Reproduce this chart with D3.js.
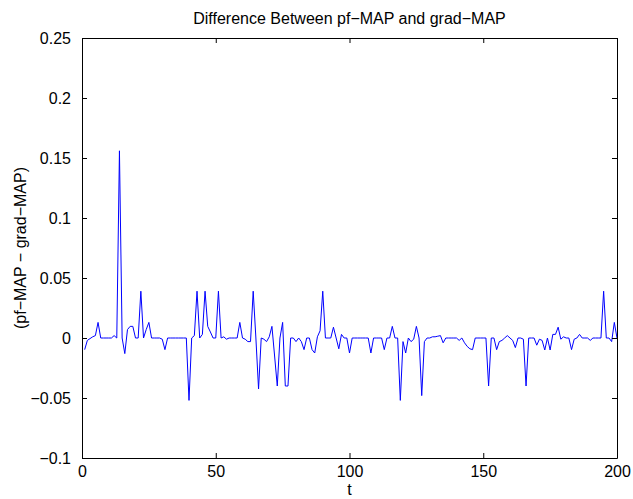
<!DOCTYPE html>
<html>
<head>
<meta charset="utf-8">
<script src="https://cdn.jsdelivr.net/npm/d3@7"></script>
<style>
  html, body { margin: 0; padding: 0; background: #fff; }
  svg text { font-family: "Liberation Sans", Arial, Helvetica, sans-serif; fill: #000; }
</style>
</head>
<body>
<svg id="chart" width="633" height="499"></svg>
<script>
// Difference between the two MAP estimates, one value per time step t = 1..200
const diffValues = [
  -0.0097, -0.002, -0.0005, 0.001, 0.002, 0.013, 0, 0, 0, 0,
  0, 0.002, 0, 0.156, 0, -0.013, 0.007, 0.0097, 0.0097, 0,
  0, 0.039, 0, 0.007, 0.013, 0, 0, 0, 0, -0.001,
  -0.0097, 0, 0, 0, 0, 0, 0, 0, 0, -0.052,
  0, 0.002, 0.039, 0, 0.003, 0.039, 0.0097, 0.005, 0, 0,
  0.039, 0, 0.001, -0.001, 0, 0, 0, 0, 0.013, 0,
  -0.001, -0.003, -0.003, 0.039, 0, -0.0425, 0, -0.001, -0.003, 0.001,
  0.0097, -0.015, -0.04, 0, 0.013, -0.04, -0.04, 0, 0, -0.003,
  0, -0.003, -0.0097, 0, 0, -0.0097, -0.0125, 0.001, 0.006, 0.039,
  0, 0, 0, 0.009, 0, -0.009, 0.003, 0, 0, -0.0125,
  0, 0, 0, 0, 0, 0, 0, -0.0125, 0, 0,
  0, 0, -0.0097, 0, 0, 0.0097, 0, 0, -0.052, -0.003,
  -0.0125, 0, -0.003, -0.001, 0.0097, 0, -0.048, -0.003, 0, 0,
  0.001, 0.001, 0.0015, 0.002, -0.004, 0, 0, 0, 0, 0,
  -0.002, 0, -0.004, -0.007, -0.009, -0.0097, 0, 0, 0, 0,
  0, -0.04, 0, 0, -0.0097, -0.003, -0.002, 0, 0.002, 0,
  -0.002, -0.008, 0, 0, -0.001, -0.04, 0, 0, 0, -0.006,
  -0.001, -0.002, -0.01, 0, -0.01, 0.003, 0.003, 0.009, -0.001, 0.001,
  0, 0, -0.0097, -0.001, 0, 0.003, 0, 0, 0, -0.002,
  0, 0, 0, 0, 0.039, 0, 0, -0.003, 0.013, 0
];
const timeSteps = diffValues.map((_, i) => i + 1);

const xTicks = [0, 50, 100, 150, 200];
const xTickLabels = ["0", "50", "100", "150", "200"];
const yTicks = [-0.1, -0.05, 0, 0.05, 0.1, 0.15, 0.2, 0.25];
const yTickLabels = ["\u22120.1", "\u22120.05", "0", "0.05", "0.1", "0.15", "0.2", "0.25"];

const titleText = "Difference Between pf\u2212MAP and grad\u2212MAP";
const xLabelText = "t";
const yLabelText = "(pf\u2212MAP \u2212 grad\u2212MAP)";

const plot = { left: 82, right: 617, top: 38, bottom: 458 };

const svg = d3.select("#chart");

const x = d3.scaleLinear().domain([0, 200]).range([plot.left, plot.right]);
const y = d3.scaleLinear().domain([-0.1, 0.25]).range([plot.bottom, plot.top]);

// Data line
const line = d3.line()
  .x((d, i) => x(timeSteps[i]))
  .y(d => y(d));

svg.append("path")
  .datum(diffValues)
  .attr("fill", "none")
  .attr("stroke", "#0000ff")
  .attr("stroke-width", 1)
  .attr("stroke-linejoin", "miter")
  .attr("d", line);

// Axes: ticks point inward on all four sides of the box
const fontSize = 16;
const xLabelOf = v => xTickLabels[xTicks.indexOf(v)];
const yLabelOf = v => yTickLabels[yTicks.findIndex(t => Math.abs(t - v) < 1e-9)];

const styleAxis = g => {
  g.select(".domain").attr("stroke", "#000").attr("stroke-width", 1);
  g.selectAll(".tick line").attr("stroke", "#000").attr("stroke-width", 1);
  g.selectAll(".tick text").attr("font-size", fontSize).attr("fill", "#000")
    .style("font-family", '"Liberation Sans", Arial, Helvetica, sans-serif');
};

svg.append("g")
  .attr("transform", `translate(0,${plot.bottom})`)
  .call(d3.axisBottom(x).tickValues(xTicks).tickFormat(xLabelOf)
    .tickSizeInner(-5).tickSizeOuter(0).tickPadding(8))
  .call(styleAxis);

svg.append("g")
  .attr("transform", `translate(0,${plot.top})`)
  .call(d3.axisTop(x).tickValues(xTicks).tickFormat(() => "")
    .tickSizeInner(-5).tickSizeOuter(0))
  .call(styleAxis);

svg.append("g")
  .attr("transform", `translate(${plot.left},0)`)
  .call(d3.axisLeft(y).tickValues(yTicks).tickFormat(yLabelOf)
    .tickSizeInner(-5).tickSizeOuter(0).tickPadding(11))
  .call(styleAxis);

svg.append("g")
  .attr("transform", `translate(${plot.right},0)`)
  .call(d3.axisRight(y).tickValues(yTicks).tickFormat(() => "")
    .tickSizeInner(-5).tickSizeOuter(0))
  .call(styleAxis);

// Title and axis labels
svg.append("text")
  .attr("x", (plot.left + plot.right) / 2)
  .attr("y", 24)
  .attr("text-anchor", "middle")
  .attr("font-size", fontSize)
  .text(titleText);

svg.append("text")
  .attr("x", (plot.left + plot.right) / 2)
  .attr("y", 495)
  .attr("text-anchor", "middle")
  .attr("font-size", fontSize)
  .text(xLabelText);

svg.append("text")
  .attr("transform", `translate(26,${(plot.top + plot.bottom) / 2}) rotate(-90)`)
  .attr("text-anchor", "middle")
  .attr("font-size", fontSize)
  .text(yLabelText);
</script>
</body>
</html>
